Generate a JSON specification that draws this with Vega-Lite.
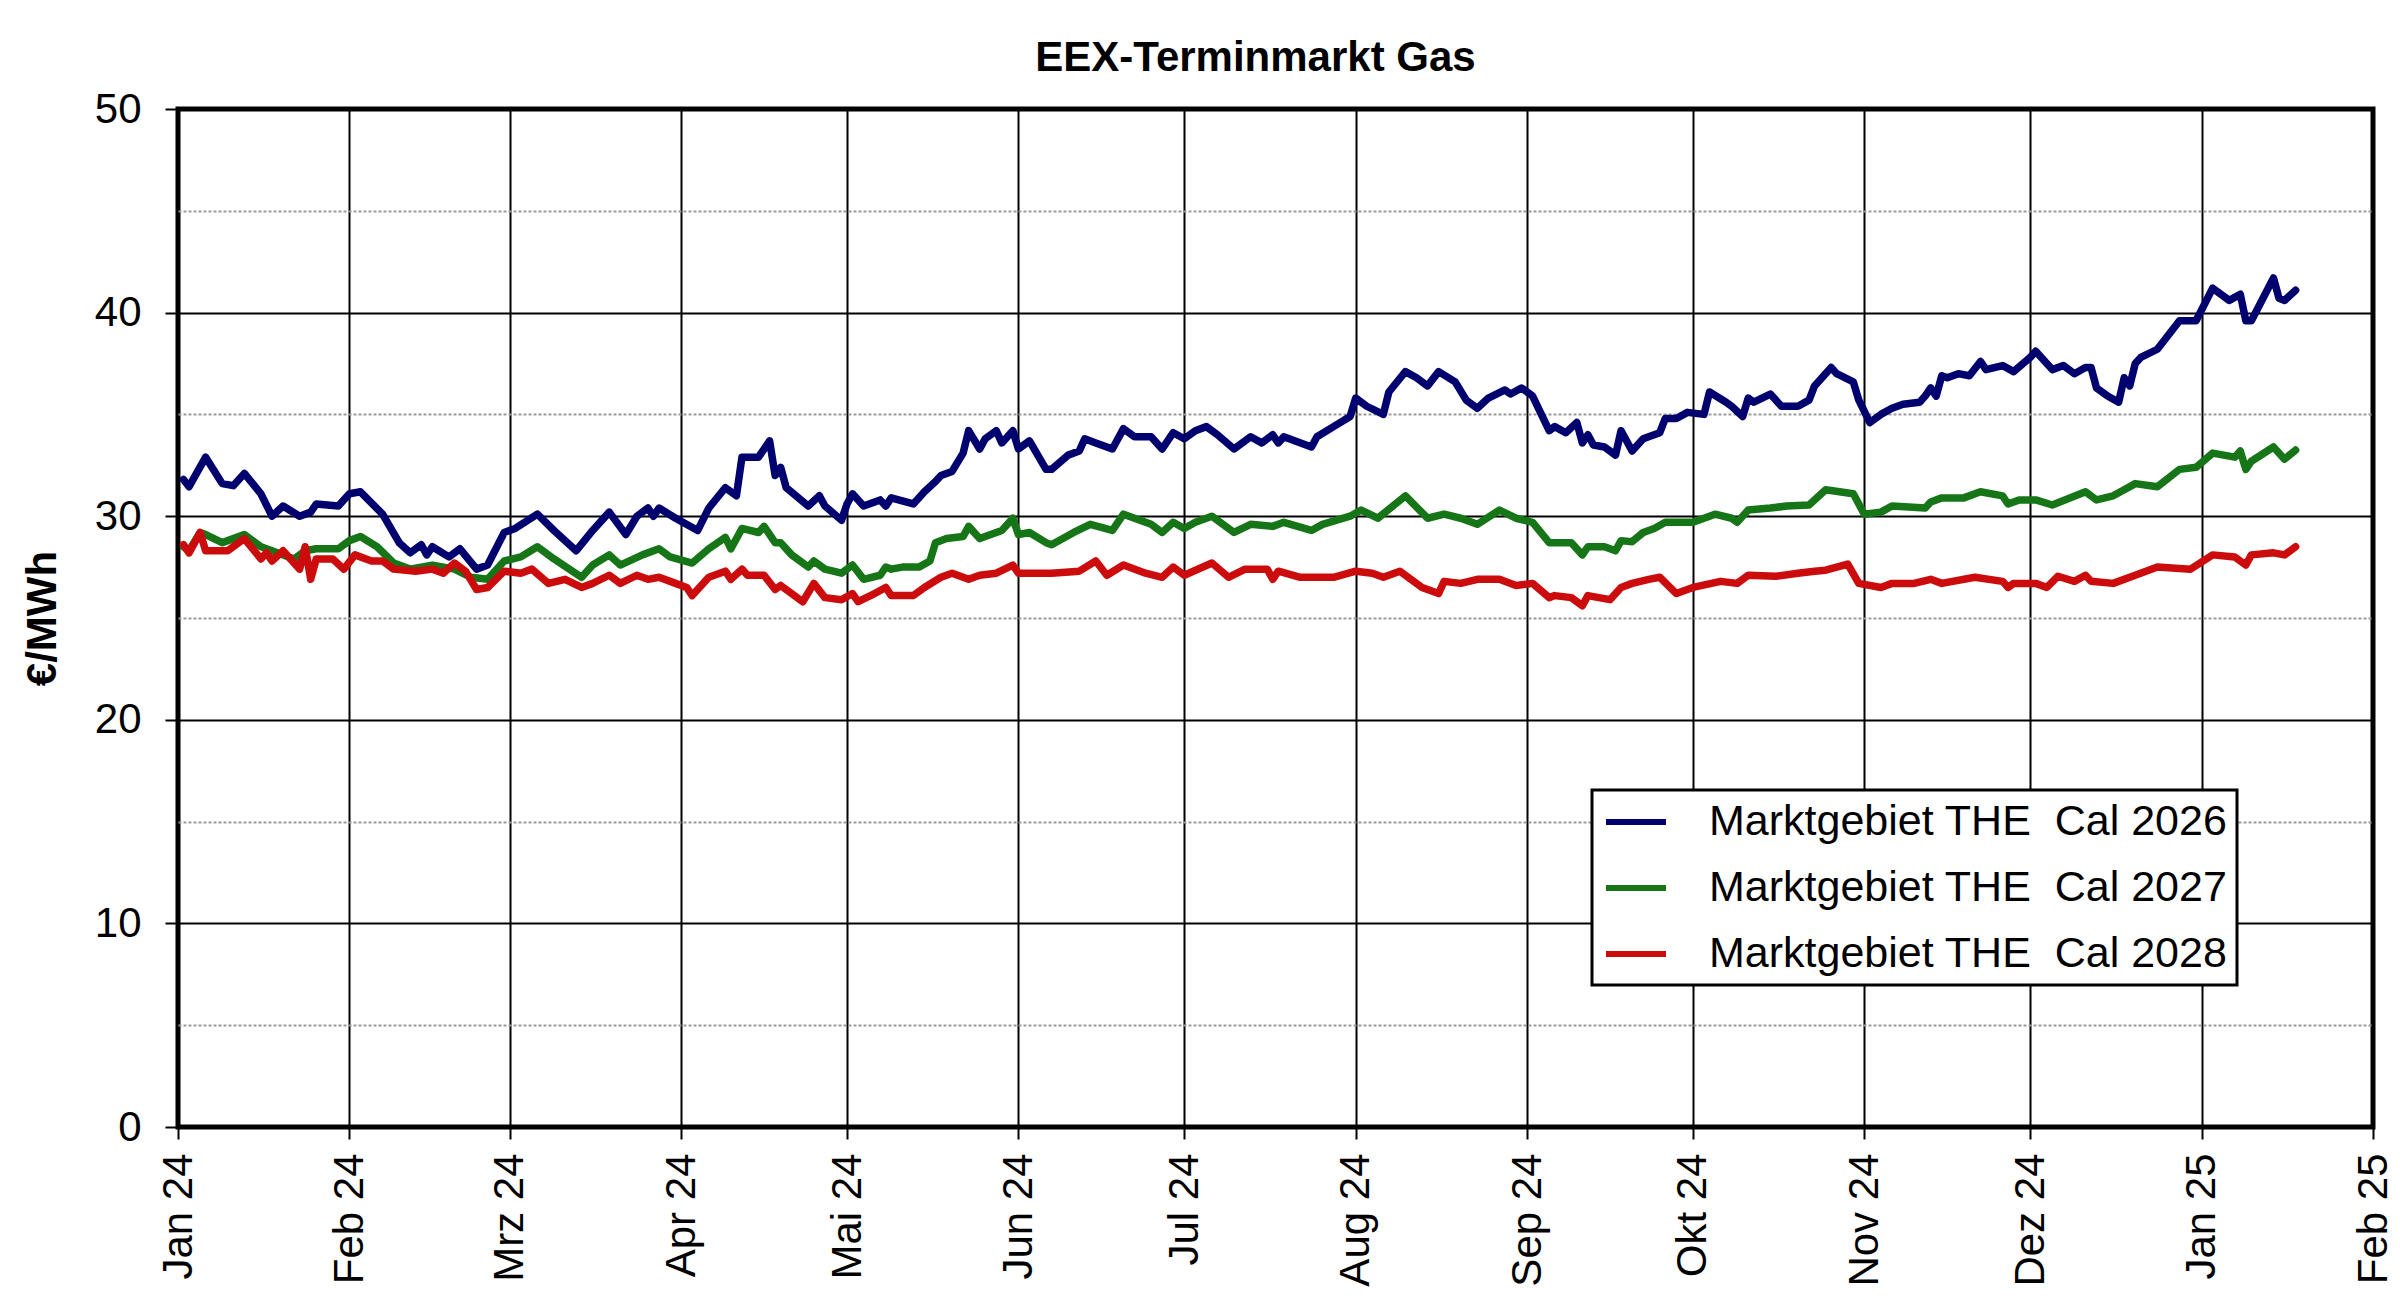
{
  "$schema": "https://vega.github.io/schema/vega-lite/v6.json",
  "width": 2195,
  "height": 1018,
  "autosize": {"type": "none"},
  "padding": {"left": 178, "top": 109, "right": 27, "bottom": 173},
  "background": "white",
  "title": {
    "text": "EEX-Terminmarkt Gas",
    "font": "Liberation Sans",
    "fontSize": 42,
    "fontWeight": "bold",
    "color": "black",
    "offset": 8,
    "dx": -20
  },
  "data": {
    "format": {"parse": {"d": "date:'%Y-%m-%d'"}},
    "values": [
      {"d": "2024-01-02", "s": "2026", "v": 31.8},
      {"d": "2024-01-03", "s": "2026", "v": 31.45},
      {"d": "2024-01-06", "s": "2026", "v": 32.9},
      {"d": "2024-01-09", "s": "2026", "v": 31.6},
      {"d": "2024-01-11", "s": "2026", "v": 31.5},
      {"d": "2024-01-13", "s": "2026", "v": 32.1},
      {"d": "2024-01-16", "s": "2026", "v": 31.1},
      {"d": "2024-01-18", "s": "2026", "v": 30.0},
      {"d": "2024-01-20", "s": "2026", "v": 30.5},
      {"d": "2024-01-23", "s": "2026", "v": 30.0},
      {"d": "2024-01-25", "s": "2026", "v": 30.2},
      {"d": "2024-01-26", "s": "2026", "v": 30.6},
      {"d": "2024-01-30", "s": "2026", "v": 30.5},
      {"d": "2024-02-01", "s": "2026", "v": 31.1},
      {"d": "2024-02-03", "s": "2026", "v": 31.2},
      {"d": "2024-02-07", "s": "2026", "v": 30.1},
      {"d": "2024-02-10", "s": "2026", "v": 28.7},
      {"d": "2024-02-12", "s": "2026", "v": 28.2},
      {"d": "2024-02-14", "s": "2026", "v": 28.6},
      {"d": "2024-02-15", "s": "2026", "v": 28.1},
      {"d": "2024-02-16", "s": "2026", "v": 28.5},
      {"d": "2024-02-19", "s": "2026", "v": 28.0},
      {"d": "2024-02-21", "s": "2026", "v": 28.4},
      {"d": "2024-02-24", "s": "2026", "v": 27.4},
      {"d": "2024-02-26", "s": "2026", "v": 27.6},
      {"d": "2024-02-29", "s": "2026", "v": 29.2},
      {"d": "2024-03-02", "s": "2026", "v": 29.4},
      {"d": "2024-03-06", "s": "2026", "v": 30.1},
      {"d": "2024-03-09", "s": "2026", "v": 29.3},
      {"d": "2024-03-13", "s": "2026", "v": 28.3},
      {"d": "2024-03-16", "s": "2026", "v": 29.3},
      {"d": "2024-03-19", "s": "2026", "v": 30.2},
      {"d": "2024-03-22", "s": "2026", "v": 29.1},
      {"d": "2024-03-24", "s": "2026", "v": 30.0},
      {"d": "2024-03-26", "s": "2026", "v": 30.4},
      {"d": "2024-03-27", "s": "2026", "v": 30.0},
      {"d": "2024-03-28", "s": "2026", "v": 30.4},
      {"d": "2024-03-31", "s": "2026", "v": 29.9},
      {"d": "2024-04-04", "s": "2026", "v": 29.3},
      {"d": "2024-04-06", "s": "2026", "v": 30.4},
      {"d": "2024-04-09", "s": "2026", "v": 31.4},
      {"d": "2024-04-11", "s": "2026", "v": 31.0},
      {"d": "2024-04-12", "s": "2026", "v": 32.9},
      {"d": "2024-04-15", "s": "2026", "v": 32.9},
      {"d": "2024-04-17", "s": "2026", "v": 33.7},
      {"d": "2024-04-18", "s": "2026", "v": 32.0},
      {"d": "2024-04-19", "s": "2026", "v": 32.4},
      {"d": "2024-04-20", "s": "2026", "v": 31.4},
      {"d": "2024-04-24", "s": "2026", "v": 30.5},
      {"d": "2024-04-26", "s": "2026", "v": 31.0},
      {"d": "2024-04-27", "s": "2026", "v": 30.5},
      {"d": "2024-04-30", "s": "2026", "v": 29.8},
      {"d": "2024-05-01", "s": "2026", "v": 30.6},
      {"d": "2024-05-02", "s": "2026", "v": 31.1},
      {"d": "2024-05-04", "s": "2026", "v": 30.5},
      {"d": "2024-05-07", "s": "2026", "v": 30.8},
      {"d": "2024-05-08", "s": "2026", "v": 30.5},
      {"d": "2024-05-09", "s": "2026", "v": 30.9},
      {"d": "2024-05-13", "s": "2026", "v": 30.6},
      {"d": "2024-05-15", "s": "2026", "v": 31.2},
      {"d": "2024-05-17", "s": "2026", "v": 31.7},
      {"d": "2024-05-18", "s": "2026", "v": 32.0},
      {"d": "2024-05-20", "s": "2026", "v": 32.2},
      {"d": "2024-05-22", "s": "2026", "v": 33.1},
      {"d": "2024-05-23", "s": "2026", "v": 34.2},
      {"d": "2024-05-25", "s": "2026", "v": 33.3},
      {"d": "2024-05-26", "s": "2026", "v": 33.8},
      {"d": "2024-05-28", "s": "2026", "v": 34.2},
      {"d": "2024-05-29", "s": "2026", "v": 33.6},
      {"d": "2024-05-31", "s": "2026", "v": 34.2},
      {"d": "2024-06-01", "s": "2026", "v": 33.3},
      {"d": "2024-06-03", "s": "2026", "v": 33.7},
      {"d": "2024-06-06", "s": "2026", "v": 32.3},
      {"d": "2024-06-07", "s": "2026", "v": 32.3},
      {"d": "2024-06-10", "s": "2026", "v": 33.0},
      {"d": "2024-06-12", "s": "2026", "v": 33.2},
      {"d": "2024-06-13", "s": "2026", "v": 33.8},
      {"d": "2024-06-15", "s": "2026", "v": 33.6},
      {"d": "2024-06-18", "s": "2026", "v": 33.3},
      {"d": "2024-06-20", "s": "2026", "v": 34.3},
      {"d": "2024-06-22", "s": "2026", "v": 33.9},
      {"d": "2024-06-25", "s": "2026", "v": 33.9},
      {"d": "2024-06-27", "s": "2026", "v": 33.3},
      {"d": "2024-06-29", "s": "2026", "v": 34.1},
      {"d": "2024-07-01", "s": "2026", "v": 33.8},
      {"d": "2024-07-03", "s": "2026", "v": 34.2},
      {"d": "2024-07-05", "s": "2026", "v": 34.4},
      {"d": "2024-07-07", "s": "2026", "v": 34.0},
      {"d": "2024-07-10", "s": "2026", "v": 33.3},
      {"d": "2024-07-13", "s": "2026", "v": 33.9},
      {"d": "2024-07-15", "s": "2026", "v": 33.6},
      {"d": "2024-07-17", "s": "2026", "v": 34.0},
      {"d": "2024-07-18", "s": "2026", "v": 33.6},
      {"d": "2024-07-19", "s": "2026", "v": 33.9},
      {"d": "2024-07-24", "s": "2026", "v": 33.4},
      {"d": "2024-07-25", "s": "2026", "v": 33.9},
      {"d": "2024-07-28", "s": "2026", "v": 34.4},
      {"d": "2024-07-31", "s": "2026", "v": 34.9},
      {"d": "2024-08-01", "s": "2026", "v": 35.8},
      {"d": "2024-08-03", "s": "2026", "v": 35.4},
      {"d": "2024-08-06", "s": "2026", "v": 35.0},
      {"d": "2024-08-07", "s": "2026", "v": 36.1},
      {"d": "2024-08-10", "s": "2026", "v": 37.1},
      {"d": "2024-08-12", "s": "2026", "v": 36.8},
      {"d": "2024-08-14", "s": "2026", "v": 36.4},
      {"d": "2024-08-16", "s": "2026", "v": 37.1},
      {"d": "2024-08-19", "s": "2026", "v": 36.6},
      {"d": "2024-08-21", "s": "2026", "v": 35.7},
      {"d": "2024-08-23", "s": "2026", "v": 35.3},
      {"d": "2024-08-25", "s": "2026", "v": 35.8},
      {"d": "2024-08-28", "s": "2026", "v": 36.2},
      {"d": "2024-08-29", "s": "2026", "v": 36.0},
      {"d": "2024-08-31", "s": "2026", "v": 36.3},
      {"d": "2024-09-02", "s": "2026", "v": 35.9},
      {"d": "2024-09-05", "s": "2026", "v": 34.2},
      {"d": "2024-09-06", "s": "2026", "v": 34.4},
      {"d": "2024-09-08", "s": "2026", "v": 34.1},
      {"d": "2024-09-10", "s": "2026", "v": 34.6},
      {"d": "2024-09-11", "s": "2026", "v": 33.6},
      {"d": "2024-09-12", "s": "2026", "v": 34.0},
      {"d": "2024-09-13", "s": "2026", "v": 33.5},
      {"d": "2024-09-15", "s": "2026", "v": 33.4},
      {"d": "2024-09-17", "s": "2026", "v": 33.0},
      {"d": "2024-09-18", "s": "2026", "v": 34.2},
      {"d": "2024-09-20", "s": "2026", "v": 33.2},
      {"d": "2024-09-22", "s": "2026", "v": 33.8},
      {"d": "2024-09-25", "s": "2026", "v": 34.1},
      {"d": "2024-09-26", "s": "2026", "v": 34.8},
      {"d": "2024-09-28", "s": "2026", "v": 34.8},
      {"d": "2024-09-30", "s": "2026", "v": 35.1},
      {"d": "2024-10-03", "s": "2026", "v": 35.0},
      {"d": "2024-10-04", "s": "2026", "v": 36.1},
      {"d": "2024-10-07", "s": "2026", "v": 35.6},
      {"d": "2024-10-08", "s": "2026", "v": 35.4},
      {"d": "2024-10-10", "s": "2026", "v": 34.9},
      {"d": "2024-10-11", "s": "2026", "v": 35.8},
      {"d": "2024-10-12", "s": "2026", "v": 35.6},
      {"d": "2024-10-15", "s": "2026", "v": 36.0},
      {"d": "2024-10-17", "s": "2026", "v": 35.4},
      {"d": "2024-10-20", "s": "2026", "v": 35.4},
      {"d": "2024-10-22", "s": "2026", "v": 35.7},
      {"d": "2024-10-23", "s": "2026", "v": 36.4},
      {"d": "2024-10-26", "s": "2026", "v": 37.3},
      {"d": "2024-10-27", "s": "2026", "v": 37.0},
      {"d": "2024-10-30", "s": "2026", "v": 36.6},
      {"d": "2024-10-31", "s": "2026", "v": 35.7},
      {"d": "2024-11-02", "s": "2026", "v": 34.6},
      {"d": "2024-11-04", "s": "2026", "v": 35.0},
      {"d": "2024-11-06", "s": "2026", "v": 35.3},
      {"d": "2024-11-08", "s": "2026", "v": 35.5},
      {"d": "2024-11-11", "s": "2026", "v": 35.6},
      {"d": "2024-11-12", "s": "2026", "v": 35.9},
      {"d": "2024-11-13", "s": "2026", "v": 36.3},
      {"d": "2024-11-14", "s": "2026", "v": 35.9},
      {"d": "2024-11-15", "s": "2026", "v": 36.9},
      {"d": "2024-11-16", "s": "2026", "v": 36.8},
      {"d": "2024-11-18", "s": "2026", "v": 37.0},
      {"d": "2024-11-20", "s": "2026", "v": 36.9},
      {"d": "2024-11-22", "s": "2026", "v": 37.6},
      {"d": "2024-11-23", "s": "2026", "v": 37.2},
      {"d": "2024-11-26", "s": "2026", "v": 37.4},
      {"d": "2024-11-28", "s": "2026", "v": 37.1},
      {"d": "2024-12-01", "s": "2026", "v": 37.8},
      {"d": "2024-12-02", "s": "2026", "v": 38.1},
      {"d": "2024-12-04", "s": "2026", "v": 37.5},
      {"d": "2024-12-05", "s": "2026", "v": 37.2},
      {"d": "2024-12-07", "s": "2026", "v": 37.4},
      {"d": "2024-12-09", "s": "2026", "v": 37.0},
      {"d": "2024-12-11", "s": "2026", "v": 37.3},
      {"d": "2024-12-12", "s": "2026", "v": 37.3},
      {"d": "2024-12-13", "s": "2026", "v": 36.3},
      {"d": "2024-12-15", "s": "2026", "v": 35.9},
      {"d": "2024-12-17", "s": "2026", "v": 35.6},
      {"d": "2024-12-18", "s": "2026", "v": 36.8},
      {"d": "2024-12-19", "s": "2026", "v": 36.4},
      {"d": "2024-12-20", "s": "2026", "v": 37.5},
      {"d": "2024-12-21", "s": "2026", "v": 37.8},
      {"d": "2024-12-24", "s": "2026", "v": 38.2},
      {"d": "2024-12-28", "s": "2026", "v": 39.6},
      {"d": "2024-12-31", "s": "2026", "v": 39.6},
      {"d": "2025-01-03", "s": "2026", "v": 41.2},
      {"d": "2025-01-06", "s": "2026", "v": 40.6},
      {"d": "2025-01-08", "s": "2026", "v": 40.9},
      {"d": "2025-01-09", "s": "2026", "v": 39.6},
      {"d": "2025-01-10", "s": "2026", "v": 39.6},
      {"d": "2025-01-14", "s": "2026", "v": 41.7},
      {"d": "2025-01-15", "s": "2026", "v": 40.7},
      {"d": "2025-01-16", "s": "2026", "v": 40.6},
      {"d": "2025-01-18", "s": "2026", "v": 41.1},

      {"d": "2024-01-02", "s": "2027", "v": 28.5},
      {"d": "2024-01-03", "s": "2027", "v": 28.3},
      {"d": "2024-01-05", "s": "2027", "v": 29.2},
      {"d": "2024-01-06", "s": "2027", "v": 29.1},
      {"d": "2024-01-09", "s": "2027", "v": 28.7},
      {"d": "2024-01-10", "s": "2027", "v": 28.8},
      {"d": "2024-01-13", "s": "2027", "v": 29.1},
      {"d": "2024-01-16", "s": "2027", "v": 28.5},
      {"d": "2024-01-18", "s": "2027", "v": 28.3},
      {"d": "2024-01-22", "s": "2027", "v": 27.9},
      {"d": "2024-01-24", "s": "2027", "v": 28.3},
      {"d": "2024-01-26", "s": "2027", "v": 28.4},
      {"d": "2024-01-30", "s": "2027", "v": 28.4},
      {"d": "2024-02-01", "s": "2027", "v": 28.8},
      {"d": "2024-02-03", "s": "2027", "v": 29.0},
      {"d": "2024-02-06", "s": "2027", "v": 28.5},
      {"d": "2024-02-09", "s": "2027", "v": 27.7},
      {"d": "2024-02-12", "s": "2027", "v": 27.4},
      {"d": "2024-02-16", "s": "2027", "v": 27.6},
      {"d": "2024-02-20", "s": "2027", "v": 27.4},
      {"d": "2024-02-23", "s": "2027", "v": 27.0},
      {"d": "2024-02-26", "s": "2027", "v": 26.9},
      {"d": "2024-02-29", "s": "2027", "v": 27.8},
      {"d": "2024-03-03", "s": "2027", "v": 28.0},
      {"d": "2024-03-06", "s": "2027", "v": 28.5},
      {"d": "2024-03-09", "s": "2027", "v": 27.9},
      {"d": "2024-03-14", "s": "2027", "v": 27.0},
      {"d": "2024-03-16", "s": "2027", "v": 27.6},
      {"d": "2024-03-19", "s": "2027", "v": 28.1},
      {"d": "2024-03-21", "s": "2027", "v": 27.6},
      {"d": "2024-03-25", "s": "2027", "v": 28.1},
      {"d": "2024-03-28", "s": "2027", "v": 28.4},
      {"d": "2024-03-30", "s": "2027", "v": 28.0},
      {"d": "2024-04-03", "s": "2027", "v": 27.7},
      {"d": "2024-04-06", "s": "2027", "v": 28.4},
      {"d": "2024-04-09", "s": "2027", "v": 28.96},
      {"d": "2024-04-10", "s": "2027", "v": 28.4},
      {"d": "2024-04-12", "s": "2027", "v": 29.4},
      {"d": "2024-04-15", "s": "2027", "v": 29.2},
      {"d": "2024-04-16", "s": "2027", "v": 29.5},
      {"d": "2024-04-18", "s": "2027", "v": 28.7},
      {"d": "2024-04-19", "s": "2027", "v": 28.7},
      {"d": "2024-04-21", "s": "2027", "v": 28.1},
      {"d": "2024-04-24", "s": "2027", "v": 27.5},
      {"d": "2024-04-25", "s": "2027", "v": 27.8},
      {"d": "2024-04-27", "s": "2027", "v": 27.4},
      {"d": "2024-04-30", "s": "2027", "v": 27.2},
      {"d": "2024-05-02", "s": "2027", "v": 27.6},
      {"d": "2024-05-04", "s": "2027", "v": 26.9},
      {"d": "2024-05-07", "s": "2027", "v": 27.1},
      {"d": "2024-05-08", "s": "2027", "v": 27.5},
      {"d": "2024-05-09", "s": "2027", "v": 27.4},
      {"d": "2024-05-11", "s": "2027", "v": 27.5},
      {"d": "2024-05-14", "s": "2027", "v": 27.5},
      {"d": "2024-05-16", "s": "2027", "v": 27.8},
      {"d": "2024-05-17", "s": "2027", "v": 28.7},
      {"d": "2024-05-19", "s": "2027", "v": 28.9},
      {"d": "2024-05-22", "s": "2027", "v": 29.0},
      {"d": "2024-05-23", "s": "2027", "v": 29.5},
      {"d": "2024-05-25", "s": "2027", "v": 28.9},
      {"d": "2024-05-28", "s": "2027", "v": 29.2},
      {"d": "2024-05-29", "s": "2027", "v": 29.3},
      {"d": "2024-05-31", "s": "2027", "v": 29.9},
      {"d": "2024-06-01", "s": "2027", "v": 29.1},
      {"d": "2024-06-03", "s": "2027", "v": 29.2},
      {"d": "2024-06-06", "s": "2027", "v": 28.7},
      {"d": "2024-06-07", "s": "2027", "v": 28.6},
      {"d": "2024-06-11", "s": "2027", "v": 29.2},
      {"d": "2024-06-14", "s": "2027", "v": 29.6},
      {"d": "2024-06-18", "s": "2027", "v": 29.3},
      {"d": "2024-06-20", "s": "2027", "v": 30.1},
      {"d": "2024-06-23", "s": "2027", "v": 29.8},
      {"d": "2024-06-25", "s": "2027", "v": 29.6},
      {"d": "2024-06-27", "s": "2027", "v": 29.2},
      {"d": "2024-06-29", "s": "2027", "v": 29.7},
      {"d": "2024-07-01", "s": "2027", "v": 29.4},
      {"d": "2024-07-03", "s": "2027", "v": 29.7},
      {"d": "2024-07-06", "s": "2027", "v": 30.0},
      {"d": "2024-07-10", "s": "2027", "v": 29.2},
      {"d": "2024-07-13", "s": "2027", "v": 29.6},
      {"d": "2024-07-17", "s": "2027", "v": 29.5},
      {"d": "2024-07-19", "s": "2027", "v": 29.7},
      {"d": "2024-07-24", "s": "2027", "v": 29.3},
      {"d": "2024-07-26", "s": "2027", "v": 29.6},
      {"d": "2024-07-31", "s": "2027", "v": 30.0},
      {"d": "2024-08-02", "s": "2027", "v": 30.3},
      {"d": "2024-08-05", "s": "2027", "v": 29.9},
      {"d": "2024-08-10", "s": "2027", "v": 31.0},
      {"d": "2024-08-14", "s": "2027", "v": 29.9},
      {"d": "2024-08-17", "s": "2027", "v": 30.1},
      {"d": "2024-08-20", "s": "2027", "v": 29.9},
      {"d": "2024-08-23", "s": "2027", "v": 29.6},
      {"d": "2024-08-27", "s": "2027", "v": 30.3},
      {"d": "2024-08-30", "s": "2027", "v": 29.9},
      {"d": "2024-09-02", "s": "2027", "v": 29.7},
      {"d": "2024-09-05", "s": "2027", "v": 28.7},
      {"d": "2024-09-09", "s": "2027", "v": 28.7},
      {"d": "2024-09-11", "s": "2027", "v": 28.1},
      {"d": "2024-09-12", "s": "2027", "v": 28.5},
      {"d": "2024-09-15", "s": "2027", "v": 28.5},
      {"d": "2024-09-17", "s": "2027", "v": 28.3},
      {"d": "2024-09-18", "s": "2027", "v": 28.8},
      {"d": "2024-09-20", "s": "2027", "v": 28.75},
      {"d": "2024-09-22", "s": "2027", "v": 29.2},
      {"d": "2024-09-24", "s": "2027", "v": 29.4},
      {"d": "2024-09-26", "s": "2027", "v": 29.7},
      {"d": "2024-10-01", "s": "2027", "v": 29.7},
      {"d": "2024-10-05", "s": "2027", "v": 30.1},
      {"d": "2024-10-08", "s": "2027", "v": 29.9},
      {"d": "2024-10-09", "s": "2027", "v": 29.7},
      {"d": "2024-10-11", "s": "2027", "v": 30.3},
      {"d": "2024-10-15", "s": "2027", "v": 30.4},
      {"d": "2024-10-18", "s": "2027", "v": 30.5},
      {"d": "2024-10-22", "s": "2027", "v": 30.55},
      {"d": "2024-10-25", "s": "2027", "v": 31.3},
      {"d": "2024-10-30", "s": "2027", "v": 31.1},
      {"d": "2024-11-01", "s": "2027", "v": 30.1},
      {"d": "2024-11-04", "s": "2027", "v": 30.2},
      {"d": "2024-11-06", "s": "2027", "v": 30.5},
      {"d": "2024-11-12", "s": "2027", "v": 30.4},
      {"d": "2024-11-13", "s": "2027", "v": 30.7},
      {"d": "2024-11-15", "s": "2027", "v": 30.9},
      {"d": "2024-11-19", "s": "2027", "v": 30.9},
      {"d": "2024-11-22", "s": "2027", "v": 31.2},
      {"d": "2024-11-26", "s": "2027", "v": 31.0},
      {"d": "2024-11-27", "s": "2027", "v": 30.6},
      {"d": "2024-11-29", "s": "2027", "v": 30.8},
      {"d": "2024-12-02", "s": "2027", "v": 30.8},
      {"d": "2024-12-05", "s": "2027", "v": 30.55},
      {"d": "2024-12-11", "s": "2027", "v": 31.2},
      {"d": "2024-12-13", "s": "2027", "v": 30.8},
      {"d": "2024-12-16", "s": "2027", "v": 31.0},
      {"d": "2024-12-18", "s": "2027", "v": 31.3},
      {"d": "2024-12-20", "s": "2027", "v": 31.6},
      {"d": "2024-12-24", "s": "2027", "v": 31.45},
      {"d": "2024-12-28", "s": "2027", "v": 32.3},
      {"d": "2024-12-31", "s": "2027", "v": 32.4},
      {"d": "2025-01-03", "s": "2027", "v": 33.1},
      {"d": "2025-01-07", "s": "2027", "v": 32.9},
      {"d": "2025-01-08", "s": "2027", "v": 33.2},
      {"d": "2025-01-09", "s": "2027", "v": 32.3},
      {"d": "2025-01-10", "s": "2027", "v": 32.7},
      {"d": "2025-01-14", "s": "2027", "v": 33.4},
      {"d": "2025-01-16", "s": "2027", "v": 32.8},
      {"d": "2025-01-18", "s": "2027", "v": 33.25},

      {"d": "2024-01-02", "s": "2028", "v": 28.6},
      {"d": "2024-01-03", "s": "2028", "v": 28.2},
      {"d": "2024-01-05", "s": "2028", "v": 29.2},
      {"d": "2024-01-06", "s": "2028", "v": 28.3},
      {"d": "2024-01-10", "s": "2028", "v": 28.3},
      {"d": "2024-01-13", "s": "2028", "v": 28.9},
      {"d": "2024-01-16", "s": "2028", "v": 27.9},
      {"d": "2024-01-17", "s": "2028", "v": 28.2},
      {"d": "2024-01-18", "s": "2028", "v": 27.8},
      {"d": "2024-01-20", "s": "2028", "v": 28.3},
      {"d": "2024-01-23", "s": "2028", "v": 27.4},
      {"d": "2024-01-24", "s": "2028", "v": 28.5},
      {"d": "2024-01-25", "s": "2028", "v": 26.9},
      {"d": "2024-01-26", "s": "2028", "v": 27.9},
      {"d": "2024-01-29", "s": "2028", "v": 27.9},
      {"d": "2024-01-31", "s": "2028", "v": 27.4},
      {"d": "2024-02-02", "s": "2028", "v": 28.1},
      {"d": "2024-02-05", "s": "2028", "v": 27.8},
      {"d": "2024-02-07", "s": "2028", "v": 27.8},
      {"d": "2024-02-09", "s": "2028", "v": 27.4},
      {"d": "2024-02-13", "s": "2028", "v": 27.3},
      {"d": "2024-02-16", "s": "2028", "v": 27.4},
      {"d": "2024-02-18", "s": "2028", "v": 27.2},
      {"d": "2024-02-20", "s": "2028", "v": 27.7},
      {"d": "2024-02-22", "s": "2028", "v": 27.3},
      {"d": "2024-02-24", "s": "2028", "v": 26.4},
      {"d": "2024-02-26", "s": "2028", "v": 26.5},
      {"d": "2024-02-29", "s": "2028", "v": 27.3},
      {"d": "2024-03-03", "s": "2028", "v": 27.2},
      {"d": "2024-03-05", "s": "2028", "v": 27.4},
      {"d": "2024-03-08", "s": "2028", "v": 26.7},
      {"d": "2024-03-11", "s": "2028", "v": 26.9},
      {"d": "2024-03-14", "s": "2028", "v": 26.5},
      {"d": "2024-03-16", "s": "2028", "v": 26.7},
      {"d": "2024-03-19", "s": "2028", "v": 27.1},
      {"d": "2024-03-21", "s": "2028", "v": 26.7},
      {"d": "2024-03-24", "s": "2028", "v": 27.1},
      {"d": "2024-03-26", "s": "2028", "v": 26.9},
      {"d": "2024-03-28", "s": "2028", "v": 27.0},
      {"d": "2024-03-31", "s": "2028", "v": 26.7},
      {"d": "2024-04-02", "s": "2028", "v": 26.5},
      {"d": "2024-04-03", "s": "2028", "v": 26.1},
      {"d": "2024-04-06", "s": "2028", "v": 27.0},
      {"d": "2024-04-09", "s": "2028", "v": 27.3},
      {"d": "2024-04-10", "s": "2028", "v": 26.9},
      {"d": "2024-04-12", "s": "2028", "v": 27.4},
      {"d": "2024-04-13", "s": "2028", "v": 27.1},
      {"d": "2024-04-16", "s": "2028", "v": 27.1},
      {"d": "2024-04-18", "s": "2028", "v": 26.4},
      {"d": "2024-04-19", "s": "2028", "v": 26.6},
      {"d": "2024-04-23", "s": "2028", "v": 25.8},
      {"d": "2024-04-25", "s": "2028", "v": 26.7},
      {"d": "2024-04-27", "s": "2028", "v": 26.0},
      {"d": "2024-04-30", "s": "2028", "v": 25.9},
      {"d": "2024-05-02", "s": "2028", "v": 26.2},
      {"d": "2024-05-03", "s": "2028", "v": 25.8},
      {"d": "2024-05-06", "s": "2028", "v": 26.2},
      {"d": "2024-05-08", "s": "2028", "v": 26.5},
      {"d": "2024-05-09", "s": "2028", "v": 26.1},
      {"d": "2024-05-11", "s": "2028", "v": 26.1},
      {"d": "2024-05-13", "s": "2028", "v": 26.1},
      {"d": "2024-05-15", "s": "2028", "v": 26.5},
      {"d": "2024-05-18", "s": "2028", "v": 27.0},
      {"d": "2024-05-20", "s": "2028", "v": 27.2},
      {"d": "2024-05-23", "s": "2028", "v": 26.9},
      {"d": "2024-05-25", "s": "2028", "v": 27.1},
      {"d": "2024-05-28", "s": "2028", "v": 27.2},
      {"d": "2024-05-31", "s": "2028", "v": 27.6},
      {"d": "2024-06-01", "s": "2028", "v": 27.2},
      {"d": "2024-06-07", "s": "2028", "v": 27.2},
      {"d": "2024-06-12", "s": "2028", "v": 27.3},
      {"d": "2024-06-15", "s": "2028", "v": 27.8},
      {"d": "2024-06-17", "s": "2028", "v": 27.1},
      {"d": "2024-06-20", "s": "2028", "v": 27.6},
      {"d": "2024-06-24", "s": "2028", "v": 27.2},
      {"d": "2024-06-27", "s": "2028", "v": 27.0},
      {"d": "2024-06-29", "s": "2028", "v": 27.5},
      {"d": "2024-07-01", "s": "2028", "v": 27.1},
      {"d": "2024-07-06", "s": "2028", "v": 27.7},
      {"d": "2024-07-09", "s": "2028", "v": 27.0},
      {"d": "2024-07-12", "s": "2028", "v": 27.4},
      {"d": "2024-07-16", "s": "2028", "v": 27.4},
      {"d": "2024-07-17", "s": "2028", "v": 26.9},
      {"d": "2024-07-18", "s": "2028", "v": 27.3},
      {"d": "2024-07-22", "s": "2028", "v": 27.0},
      {"d": "2024-07-25", "s": "2028", "v": 27.0},
      {"d": "2024-07-28", "s": "2028", "v": 27.0},
      {"d": "2024-08-01", "s": "2028", "v": 27.3},
      {"d": "2024-08-04", "s": "2028", "v": 27.2},
      {"d": "2024-08-06", "s": "2028", "v": 27.0},
      {"d": "2024-08-09", "s": "2028", "v": 27.3},
      {"d": "2024-08-13", "s": "2028", "v": 26.5},
      {"d": "2024-08-16", "s": "2028", "v": 26.2},
      {"d": "2024-08-17", "s": "2028", "v": 26.8},
      {"d": "2024-08-20", "s": "2028", "v": 26.7},
      {"d": "2024-08-23", "s": "2028", "v": 26.9},
      {"d": "2024-08-27", "s": "2028", "v": 26.9},
      {"d": "2024-08-30", "s": "2028", "v": 26.6},
      {"d": "2024-09-02", "s": "2028", "v": 26.7},
      {"d": "2024-09-05", "s": "2028", "v": 26.0},
      {"d": "2024-09-06", "s": "2028", "v": 26.1},
      {"d": "2024-09-09", "s": "2028", "v": 26.0},
      {"d": "2024-09-11", "s": "2028", "v": 25.6},
      {"d": "2024-09-12", "s": "2028", "v": 26.1},
      {"d": "2024-09-16", "s": "2028", "v": 25.9},
      {"d": "2024-09-18", "s": "2028", "v": 26.5},
      {"d": "2024-09-20", "s": "2028", "v": 26.7},
      {"d": "2024-09-23", "s": "2028", "v": 26.9},
      {"d": "2024-09-25", "s": "2028", "v": 27.0},
      {"d": "2024-09-28", "s": "2028", "v": 26.2},
      {"d": "2024-10-01", "s": "2028", "v": 26.5},
      {"d": "2024-10-06", "s": "2028", "v": 26.8},
      {"d": "2024-10-09", "s": "2028", "v": 26.7},
      {"d": "2024-10-11", "s": "2028", "v": 27.1},
      {"d": "2024-10-16", "s": "2028", "v": 27.05},
      {"d": "2024-10-20", "s": "2028", "v": 27.2},
      {"d": "2024-10-23", "s": "2028", "v": 27.3},
      {"d": "2024-10-25", "s": "2028", "v": 27.35},
      {"d": "2024-10-29", "s": "2028", "v": 27.65},
      {"d": "2024-10-31", "s": "2028", "v": 26.7},
      {"d": "2024-11-04", "s": "2028", "v": 26.5},
      {"d": "2024-11-06", "s": "2028", "v": 26.7},
      {"d": "2024-11-10", "s": "2028", "v": 26.7},
      {"d": "2024-11-13", "s": "2028", "v": 26.9},
      {"d": "2024-11-15", "s": "2028", "v": 26.7},
      {"d": "2024-11-21", "s": "2028", "v": 27.0},
      {"d": "2024-11-26", "s": "2028", "v": 26.8},
      {"d": "2024-11-27", "s": "2028", "v": 26.5},
      {"d": "2024-11-28", "s": "2028", "v": 26.7},
      {"d": "2024-12-02", "s": "2028", "v": 26.7},
      {"d": "2024-12-04", "s": "2028", "v": 26.5},
      {"d": "2024-12-06", "s": "2028", "v": 27.05},
      {"d": "2024-12-09", "s": "2028", "v": 26.8},
      {"d": "2024-12-11", "s": "2028", "v": 27.1},
      {"d": "2024-12-12", "s": "2028", "v": 26.8},
      {"d": "2024-12-16", "s": "2028", "v": 26.7},
      {"d": "2024-12-20", "s": "2028", "v": 27.1},
      {"d": "2024-12-24", "s": "2028", "v": 27.5},
      {"d": "2024-12-30", "s": "2028", "v": 27.4},
      {"d": "2025-01-03", "s": "2028", "v": 28.1},
      {"d": "2025-01-07", "s": "2028", "v": 28.0},
      {"d": "2025-01-09", "s": "2028", "v": 27.6},
      {"d": "2025-01-10", "s": "2028", "v": 28.1},
      {"d": "2025-01-14", "s": "2028", "v": 28.2},
      {"d": "2025-01-16", "s": "2028", "v": 28.1},
      {"d": "2025-01-18", "s": "2028", "v": 28.5}
    ]
  },
  "mark": {"type": "line", "strokeWidth": 7.5, "strokeJoin": "round", "strokeCap": "round", "clip": true},
  "encoding": {
    "x": {
      "field": "d",
      "type": "temporal",
      "title": null,
      "scale": {
        "domain": [{"year": 2024, "month": 1, "date": 1}, {"year": 2025, "month": 2, "date": 1}],
        "nice": false
      },
      "axis": {
        "values": [
          {"year": 2024, "month": 1, "date": 1},
          {"year": 2024, "month": 2, "date": 1},
          {"year": 2024, "month": 3, "date": 1},
          {"year": 2024, "month": 4, "date": 1},
          {"year": 2024, "month": 5, "date": 1},
          {"year": 2024, "month": 6, "date": 1},
          {"year": 2024, "month": 7, "date": 1},
          {"year": 2024, "month": 8, "date": 1},
          {"year": 2024, "month": 9, "date": 1},
          {"year": 2024, "month": 10, "date": 1},
          {"year": 2024, "month": 11, "date": 1},
          {"year": 2024, "month": 12, "date": 1},
          {"year": 2025, "month": 1, "date": 1},
          {"year": 2025, "month": 2, "date": 1}
        ],
        "labelExpr": "['Jan','Feb','Mrz','Apr','Mai','Jun','Jul','Aug','Sep','Okt','Nov','Dez'][month(datum.value)] + ' ' + timeFormat(datum.value, '%y')",
        "labelAngle": -90,
        "labelPadding": 14,
        "labelFlush": false,
        "labelOverlap": false,
        "tickSize": 12,
        "grid": true
      }
    },
    "y": {
      "field": "v",
      "type": "quantitative",
      "title": "€/MWh",
      "scale": {"domain": [0, 50], "nice": false},
      "axis": {
        "values": [0, 5, 10, 15, 20, 25, 30, 35, 40, 45, 50],
        "labelExpr": "datum.value % 10 === 0 ? datum.label : ''",
        "labelPadding": 24,
        "labelFlush": false,
        "labelOverlap": false,
        "tickSize": 13,
        "tickOpacity": {"condition": {"test": "datum.value % 10 !== 0", "value": 0}, "value": 1},
        "gridColor": {"condition": {"test": "datum.value % 10 !== 0", "value": "#9a9a9a"}, "value": "black"},
        "gridDash": {"condition": {"test": "datum.value % 10 !== 0", "value": [3, 2]}, "value": []},
        "titleFontWeight": "bold",
        "titlePadding": 30
      }
    },
    "color": {
      "field": "s",
      "type": "nominal",
      "scale": {"domain": ["2026", "2027", "2028"], "range": ["#00006e", "#167516", "#cc0c0c"]},
      "legend": {
        "title": null,
        "orient": "none",
        "legendX": 1414,
        "legendY": 681,
        "labelExpr": "'Marktgebiet THE\u00a0 Cal ' + datum.label",
        "symbolType": "M-1.5,0H1.5",
        "symbolSize": 1600,
        "symbolOffset": 12,
        "symbolStrokeWidth": 6,
        "labelOffset": 50,
        "rowPadding": 21,
        "padding": 9
      }
    }
  },
  "config": {
    "font": "Liberation Sans",
    "view": {"stroke": "black", "strokeWidth": 5},
    "axis": {
      "domain": false,
      "labelFont": "Liberation Sans",
      "labelFontSize": 42,
      "labelColor": "black",
      "titleFont": "Liberation Sans",
      "titleFontSize": 42,
      "titleColor": "black",
      "tickColor": "black",
      "tickWidth": 2,
      "gridColor": "black",
      "gridWidth": 2,
      "gridOpacity": 1
    },
    "legend": {
      "labelFont": "Liberation Sans",
      "labelFontSize": 43,
      "labelColor": "black",
      "labelLimit": 0,
      "strokeColor": "black",
      "strokeWidth": 3,
      "fillColor": "white"
    }
  }
}
